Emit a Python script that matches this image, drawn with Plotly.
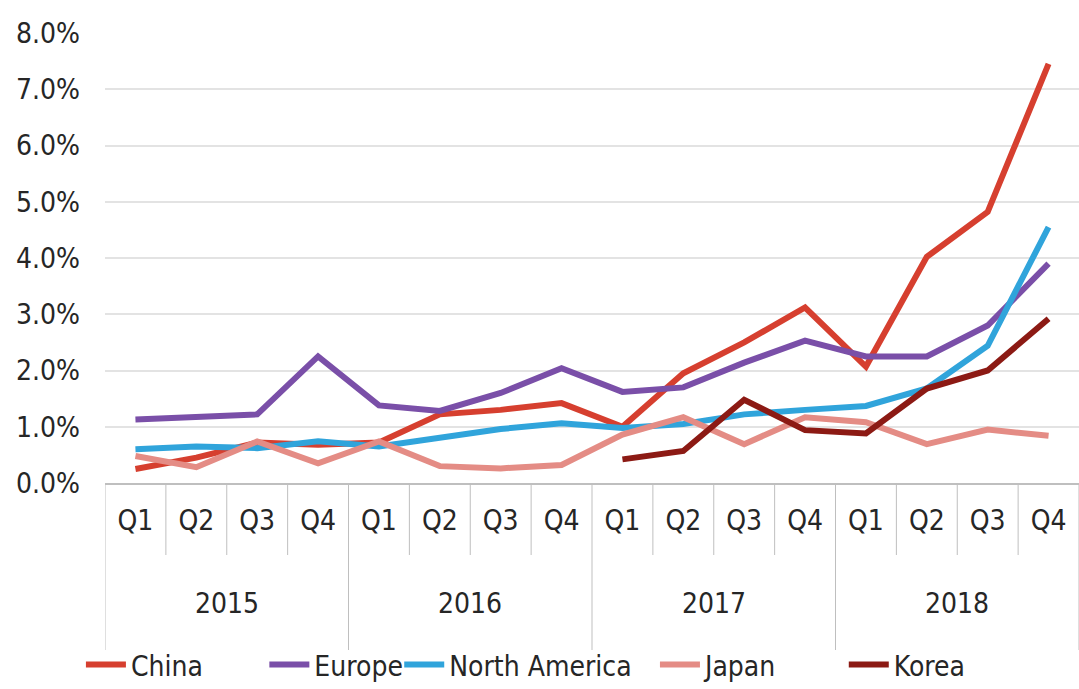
import plotly.graph_objects as go

years = ["2015"] * 4 + ["2016"] * 4 + ["2017"] * 4 + ["2018"] * 4
quarters = ["Q1", "Q2", "Q3", "Q4"] * 4

china = [0.25, 0.45, 0.72, 0.68, 0.72, 1.22, 1.3, 1.42, 1.0, 1.95, 2.5, 3.12, 2.07, 4.02, 4.82, 7.45]
europe = [1.13, 1.17, 1.22, 2.25, 1.38, 1.28, 1.6, 2.04, 1.62, 1.7, 2.14, 2.53, 2.25, 2.25, 2.8, 3.9]
north_america = [0.6, 0.65, 0.62, 0.74, 0.65, 0.8, 0.96, 1.06, 0.98, 1.05, 1.22, 1.3, 1.37, 1.68, 2.44, 4.55]
japan = [0.48, 0.28, 0.74, 0.35, 0.74, 0.3, 0.26, 0.32, 0.86, 1.17, 0.69, 1.17, 1.08, 0.69, 0.95, 0.84]
korea = [None] * 8 + [0.42, 0.57, 1.48, 0.94, 0.88, 1.68, 2.0, 2.92]

series_names = ["China", "Europe", "North America", "Japan", "Korea"]
series_values = [china, europe, north_america, japan, korea]
series_colors = ["#d63f2f", "#7a4fa8", "#30a4db", "#e48c85", "#8c1a14"]
legend_x = [0.075, 0.245, 0.37, 0.607, 0.782]  # container fraction

y_ticks = [0, 1, 2, 3, 4, 5, 6, 7, 8]
y_tick_text = [f"{v:.1f}%" for v in y_ticks]

FONT = "DejaVu Sans Condensed, Liberation Sans Narrow, sans-serif"
TXT = "#262626"
GRID = "#e3e3e3"
AX = "#bfbfbf"

cats = [f"{y} {q}" for y, q in zip(years, quarters)]

fig = go.Figure()
layout_legends = {}
for i, (name, vals, color) in enumerate(zip(series_names, series_values, series_colors)):
    lg = "legend" if i == 0 else f"legend{i + 1}"
    fig.add_trace(go.Scatter(
        x=cats, y=vals, name=name, mode="lines",
        line=dict(color=color, width=6), connectgaps=False, legend=lg,
    ))
    layout_legends[lg] = dict(
        orientation="h",
        x=legend_x[i], xref="container", xanchor="left",
        y=0.035, yref="container", yanchor="middle",
        font=dict(size=28, color=TXT, family=FONT), bgcolor="rgba(0,0,0,0)",
        itemwidth=40, borderwidth=0,
    )

plot_h = 689 - 33 - 206
shapes = []
n = len(cats)
for i in range(n + 1):
    is_year_boundary = i == 0 or i == n or years[i] != years[i - 1]
    depth = 167 if is_year_boundary else 72
    shapes.append(dict(type="line", xref="x", yref="paper", x0=i - 0.5, x1=i - 0.5,
                       y0=0, y1=-depth / plot_h, line=dict(color=AX, width=1)))

annotations = []
unique_years = list(dict.fromkeys(years))
for yr in unique_years:
    idx = [i for i, y in enumerate(years) if y == yr]
    mid = (idx[0] + idx[-1]) / 2
    annotations.append(dict(x=mid, xref="x", y=-(603 - 483) / plot_h, yref="paper",
                            text=yr, showarrow=False, yanchor="middle",
                            font=dict(size=28, color=TXT, family=FONT)))

fig.update_layout(
    width=1079, height=689,
    margin=dict(l=105, r=0, t=33, b=206),
    paper_bgcolor="white", plot_bgcolor="white",
    font=dict(family=FONT, size=28, color=TXT),
    showlegend=True,
    shapes=shapes, annotations=annotations,
    **layout_legends,
)
fig.update_xaxes(
    type="category", range=[-0.5, n - 0.5],
    tickvals=cats, ticktext=quarters,
    showline=True, linecolor=AX, linewidth=1.5,
    ticks="", showgrid=False, tickfont=dict(size=28),
    ticklabelstandoff=12, automargin=False,
)
fig.update_yaxes(
    range=[0, 8], tickvals=y_ticks, ticktext=y_tick_text,
    showgrid=True, gridcolor=GRID, gridwidth=1.5, zeroline=False,
    ticklabelstandoff=24, tickfont=dict(size=28), automargin=False,
)

fig.write_html("out.html", config={"displayModeBar": False},
               post_script="document.body.style.margin='0';")
